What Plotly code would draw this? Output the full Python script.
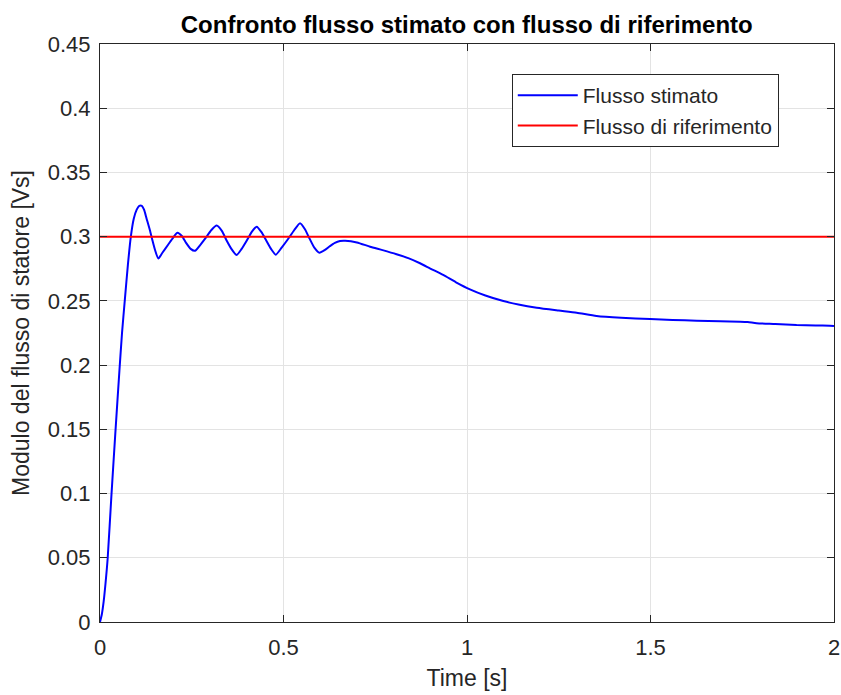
import plotly.graph_objects as go

# Estimated stator flux magnitude
time_s = [0.0, 0.005, 0.01, 0.015, 0.021, 0.031, 0.042, 0.053, 0.06, 0.068, 0.076, 0.084,
          0.092, 0.1, 0.107, 0.114, 0.12, 0.127, 0.136, 0.143, 0.15, 0.159, 0.17, 0.185,
          0.2, 0.211, 0.223, 0.235, 0.247, 0.259, 0.273, 0.288, 0.303, 0.318, 0.332,
          0.345, 0.358, 0.372, 0.386, 0.4, 0.414, 0.427, 0.44, 0.453, 0.466, 0.479,
          0.495, 0.512, 0.529, 0.545, 0.558, 0.571, 0.584, 0.598, 0.612, 0.626, 0.64,
          0.654, 0.668, 0.7, 0.736, 0.77, 0.808, 0.84, 0.872, 0.9, 0.935, 0.97, 1.008,
          1.05, 1.099, 1.14, 1.19, 1.25, 1.299, 1.353, 1.42, 1.499, 1.56, 1.626, 1.69,
          1.744, 1.765, 1.789, 1.84, 1.898, 1.95, 1.989, 2.0]
flux_est = [0.0, 0.006, 0.016, 0.03, 0.05, 0.098, 0.148, 0.196, 0.225, 0.252, 0.278, 0.3,
            0.314, 0.321, 0.324, 0.324, 0.321, 0.314, 0.305, 0.297, 0.2896, 0.283, 0.2875, 0.2935,
            0.2995, 0.303, 0.3005, 0.295, 0.2905, 0.289, 0.2935, 0.299, 0.305, 0.3086, 0.3045,
            0.297, 0.2905, 0.2857, 0.2905, 0.297, 0.304, 0.3078, 0.3035, 0.297, 0.2905, 0.286,
            0.2915, 0.298, 0.305, 0.3104, 0.306, 0.2985, 0.2915, 0.2875, 0.2895, 0.2925, 0.2952,
            0.2966, 0.2968, 0.2955, 0.2922, 0.2895, 0.2863, 0.2833, 0.2793, 0.2752, 0.2702, 0.2645, 0.259,
            0.2542, 0.2499, 0.2472, 0.2447, 0.2425, 0.2408, 0.2382, 0.2368, 0.2359, 0.2352, 0.2346, 0.2341,
            0.2338, 0.2335, 0.2326, 0.232, 0.2312, 0.2309, 0.2307, 0.2305]

# Reference flux
ref_time = [0.0, 2.0]
ref_flux = [0.3, 0.3]

x_ticks = [0, 0.5, 1, 1.5, 2]
x_labels = ["0", "0.5", "1", "1.5", "2"]
y_ticks = [0, 0.05, 0.1, 0.15, 0.2, 0.25, 0.3, 0.35, 0.4, 0.45]
y_labels = ["0", "0.05", "0.1", "0.15", "0.2", "0.25", "0.3", "0.35", "0.4", "0.45"]

FONT = "Liberation Sans, Arial, Helvetica, sans-serif"
AXC = "#262626"

fig = go.Figure()
fig.add_trace(go.Scatter(x=time_s, y=flux_est, mode="lines", name="Flusso stimato",
                         line=dict(color="#0000ff", width=2, shape="spline", smoothing=0.6)))
fig.add_trace(go.Scatter(x=ref_time, y=ref_flux, mode="lines", name="Flusso di riferimento",
                         line=dict(color="#ff0000", width=2)))

axis_common = dict(showgrid=True, gridcolor="#e3e3e3", gridwidth=1, zeroline=False,
                   showline=True, linecolor=AXC, linewidth=1, mirror="ticks",
                   ticks="inside", ticklen=7, tickcolor=AXC, automargin=False,
                   tickfont=dict(family=FONT, size=22, color=AXC))

fig.update_xaxes(range=[0, 2], tickvals=x_ticks, ticktext=x_labels, ticklabelstandoff=6,
                 title=dict(text="Time [s]", font=dict(family=FONT, size=23, color=AXC), standoff=10),
                 **axis_common)
fig.update_yaxes(range=[0, 0.45], tickvals=y_ticks, ticktext=y_labels, ticklabelstandoff=4,
                 title=dict(text="Modulo del flusso di statore [Vs]", font=dict(family=FONT, size=23, color=AXC), standoff=11),
                 **axis_common)

fig.update_layout(
    width=841, height=695,
    margin=dict(l=100, r=7, t=44, b=73),
    paper_bgcolor="white", plot_bgcolor="white",
    title=dict(text="<b>Confronto flusso stimato con flusso di riferimento</b>",
               font=dict(family=FONT, size=24, color="black"),
               x=0.555, xanchor="center", y=0.977, yanchor="top"),
    legend=dict(x=0.561, y=0.948, xanchor="left", yanchor="top",
                bgcolor="white", bordercolor=AXC, borderwidth=1,
                font=dict(family=FONT, size=21, color=AXC),
                tracegroupgap=0, itemwidth=60),
    showlegend=True,
)

fig.write_html("out.html")
